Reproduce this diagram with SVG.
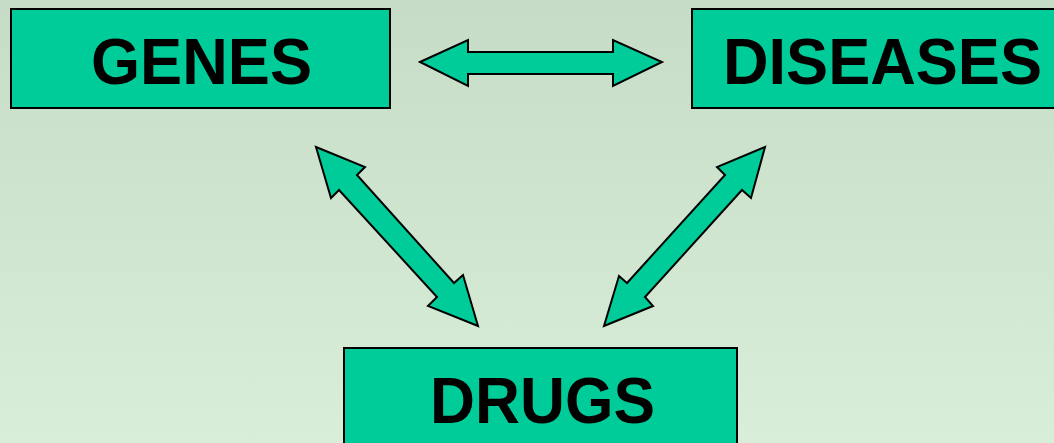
<svg xmlns="http://www.w3.org/2000/svg" width="1054" height="443" viewBox="0 0 1054 443">
<defs>
<linearGradient id="bg" x1="0" y1="0" x2="0" y2="1">
<stop offset="0" stop-color="#c7dcc7"/>
<stop offset="1" stop-color="#d8eed8"/>
</linearGradient>
<style>
.box{fill:#00cc99;stroke:#000;stroke-width:2}
.lbl{font-family:"Liberation Sans",Arial,sans-serif;font-weight:bold;font-size:65px;fill:#000}
.arr{fill:#00cc99;stroke:#000;stroke-width:2;stroke-linejoin:miter}
</style>
</defs>
<rect x="0" y="0" width="1054" height="443" fill="url(#bg)"/>
<g id="genes">
<rect class="box" x="11" y="9" width="379" height="99"/>
<text class="lbl" x="91" y="84" textLength="221" lengthAdjust="spacingAndGlyphs">GENES</text>
</g>
<g id="diseases">
<rect class="box" x="692" y="9" width="380" height="99"/>
<text class="lbl" x="723" y="84" textLength="319" lengthAdjust="spacingAndGlyphs">DISEASES</text>
</g>
<g id="drugs">
<rect class="box" x="344" y="348" width="393" height="110"/>
<text class="lbl" x="430" y="423" textLength="225" lengthAdjust="spacingAndGlyphs">DRUGS</text>
</g>
<g id="connectors">
<polygon class="arr" points="420,62 468,40 468,52 613,52 613,40 662,62 613,86 613,74 468,74 468,86"/>
<polygon class="arr" points="316,147 365,167 357,175 454,283 463,275 478,326 428,306 437,297 339,190 331,198"/>
<polygon class="arr" points="765,147 751,198 742,190 645,297 653,306 604,326 619,276 627,283 725,175 717,167"/>
</g>
</svg>
